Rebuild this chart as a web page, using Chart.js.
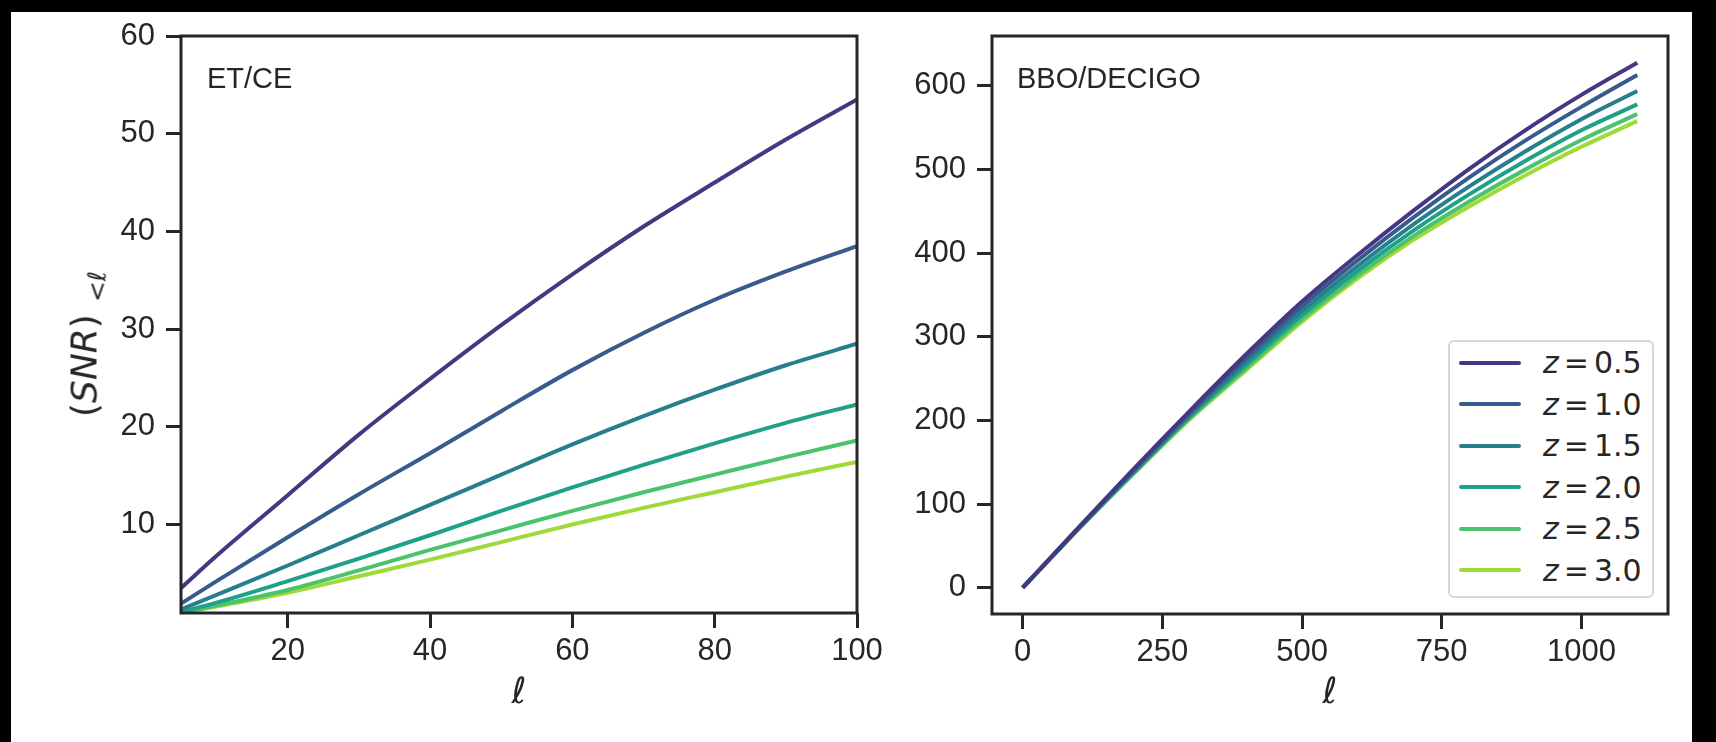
<!DOCTYPE html>
<html>
<head>
<meta charset="utf-8">
<title>SNR vs ell</title>
<script src="https://cdn.jsdelivr.net/npm/chart.js@4.4.1/dist/chart.umd.min.js"></script>
<style>
  body { margin: 0; background: #000; width: 1716px; height: 742px; overflow: hidden; position: relative; }
  #paper { position: absolute; left: 11px; top: 12px; width: 1681px; height: 730px; background: #fff; }
  canvas { position: absolute; top: 0; }
  #etCanvas { left: 0; }
  #bboCanvas { left: 880px; }
  .panel-label { position: absolute; font: 29px "Liberation Sans", Arial, sans-serif; line-height: 1; color: #262626; }
  #ytitle { position: absolute; left: 88px; top: 344px; transform: translate(-50%, -50%) rotate(-90deg);
    font: 36px "DejaVu Sans", sans-serif; line-height: 1; color: #262626; white-space: nowrap; }
  #ytitle sub { font-size: 25px; margin-left: 12px; vertical-align: -9px; }
  #legend { position: absolute; left: 1448px; top: 340px; width: 206px; height: 258px; box-sizing: border-box;
    border: 2px solid #d6d6d6; border-radius: 6px; background: #fff; padding-left: 9px; }
  .leg-row { height: 41.5px; display: flex; align-items: center; }
  .leg-line { width: 62px; height: 4px; border-radius: 2px; margin-right: 22px; }
  .leg-text { font: 30px "DejaVu Sans", sans-serif; color: #262626; white-space: nowrap; }
  .leg-text .eq { margin: 0 5px; }
</style>
</head>
<body>
<div id="paper"></div>
<canvas id="etCanvas" width="900" height="742"></canvas>
<canvas id="bboCanvas" width="836" height="742"></canvas>
<div class="panel-label" style="left:207px; top:64px;">ET/CE</div>
<div class="panel-label" style="left:1017px; top:64px;">BBO/DECIGO</div>
<div id="ytitle">(<i>SNR</i>)<sub>&lt;<i>ℓ</i></sub></div>
<div id="legend"></div>
<script>
// redshift labels + viridis colours
const zLabels = ['0.5', '1.0', '1.5', '2.0', '2.5', '3.0'];
const zColors = ['#453781', '#375b8d', '#277f8e', '#1fa188', '#4bc26c', '#a0da39'];

// left panel: ET/CE
const ellEt = [5, 10, 20, 30, 40, 50, 60, 70, 80, 90, 100];
const etZ05 = [3.5, 6.8, 13.0, 19.2, 24.9, 30.4, 35.6, 40.5, 45.0, 49.4, 53.5];
const etZ10 = [1.9, 4.2, 8.7, 13.1, 17.3, 21.6, 25.8, 29.6, 33.0, 35.9, 38.5];
const etZ15 = [1.3, 2.8, 5.8, 8.9, 12.0, 15.1, 18.2, 21.1, 23.8, 26.3, 28.5];
const etZ20 = [1.05, 2.0, 4.2, 6.5, 8.9, 11.4, 13.8, 16.1, 18.3, 20.4, 22.3];
const etZ25 = [0.95, 1.7, 3.3, 5.3, 7.4, 9.4, 11.4, 13.3, 15.1, 16.9, 18.6];
const etZ30 = [0.95, 1.6, 3.0, 4.7, 6.4, 8.2, 10.0, 11.7, 13.3, 14.9, 16.4];
const etXTicks = [20, 40, 60, 80, 100];
const etYTicks = [10, 20, 30, 40, 50, 60];

// right panel: BBO/DECIGO
const ellBbo = [0, 100, 200, 300, 400, 500, 600, 700, 800, 900, 1000, 1100];
const bboZ05 = [0, 72, 143, 212, 279, 342, 398, 451, 501, 547, 589, 627.5];
const bboZ10 = [0, 71.5, 141.6, 209.7, 274.6, 336.5, 391.6, 443, 490.7, 534.6, 574.7, 612.8];
const bboZ15 = [0, 71, 140.2, 207.3, 270.1, 330.7, 384.8, 434.5, 479.9, 521.6, 559.9, 593.6];
const bboZ20 = [0, 70.6, 138.9, 205.2, 266.1, 325.7, 379, 427.2, 470.4, 510.3, 546.8, 577.7];
const bboZ25 = [0, 70.3, 137.8, 203.3, 262.5, 321.1, 373.6, 420.5, 461.9, 500, 535.1, 566];
const bboZ30 = [0, 70, 137, 202, 260, 318, 370, 416, 456, 493, 527, 557.7];
const bboXTicks = [0, 250, 500, 750, 1000];
const bboYTicks = [0, 100, 200, 300, 400, 500, 600];

const ink = '#262626';
const tickFont = { family: '"Liberation Sans", Arial, sans-serif', size: 31 };

document.addEventListener("DOMContentLoaded", () => {

  // full box around the plot area
  const framePlugin = {
    id: 'frame',
    afterDatasetsDraw: (chart) => {
      const { ctx, chartArea: a } = chart;
      ctx.save();
      ctx.strokeStyle = ink;
      ctx.lineWidth = 3;
      ctx.strokeRect(a.left, a.top, a.right - a.left, a.bottom - a.top);
      ctx.restore();
    }
  };

  const makeSets = (xs, series) => series.map((ys, i) => ({
    label: 'z = ' + zLabels[i],
    data: xs.map((x, j) => ({ x: x, y: ys[j] })),
    borderColor: zColors[i],
    backgroundColor: zColors[i],
    borderWidth: 4,
    pointRadius: 0,
    cubicInterpolationMode: 'monotone',
    fill: false
  }));

  const axisCommon = (tickList, pad) => ({
    type: 'linear',
    grid: { drawOnChartArea: false, drawTicks: true, tickLength: 15, tickWidth: 3, tickColor: ink, color: ink },
    border: { display: false },
    ticks: { color: ink, font: tickFont, padding: pad, callback: (v) => String(v) },
    afterBuildTicks: (s) => { s.ticks = tickList.map(v => ({ value: v })); }
  });

  const renderPanel = (id, xs, series, cfg) => {
    const ctx = document.getElementById(id).getContext('2d');
    const xAxis = axisCommon(cfg.xTicks, 5);
    xAxis.min = cfg.xMin; xAxis.max = cfg.xMax;
    xAxis.title = { display: true, text: 'ℓ', color: ink,
      font: { family: '"DejaVu Sans", sans-serif', size: 36, style: 'italic' }, padding: { top: 0, bottom: 27 } };
    xAxis.afterFit = (s) => { s.height = 742 - cfg.bottom; };
    const yAxis = axisCommon(cfg.yTicks, 11);
    yAxis.min = cfg.yMin; yAxis.max = cfg.yMax;
    yAxis.afterFit = (s) => { s.width = cfg.left; };

    new Chart(ctx, {
      type: 'line',
      data: { datasets: makeSets(xs, series) },
      options: {
        responsive: false,
        animation: false,
        devicePixelRatio: 1,
        layout: { padding: { left: 0, top: cfg.top, right: cfg.right, bottom: 0 } },
        plugins: { legend: { display: false }, tooltip: { enabled: false } },
        scales: { x: xAxis, y: yAxis }
      },
      plugins: [framePlugin]
    });
  };

  renderPanel('etCanvas', ellEt, [etZ05, etZ10, etZ15, etZ20, etZ25, etZ30], {
    xTicks: etXTicks, yTicks: etYTicks, xMin: 5, xMax: 100, yMin: 0.94, yMax: 60,
    left: 181, top: 36, right: 900 - 857, bottom: 613
  });

  renderPanel('bboCanvas', ellBbo, [bboZ05, bboZ10, bboZ15, bboZ20, bboZ25, bboZ30], {
    xTicks: bboXTicks, yTicks: bboYTicks, xMin: -55, xMax: 1155, yMin: -31.4, yMax: 659.4,
    left: 112, top: 36, right: 836 - 788, bottom: 614
  });

  // legend box inside right panel
  const legend = document.getElementById('legend');
  zLabels.forEach((z, i) => {
    const row = document.createElement('div');
    row.className = 'leg-row';
    row.innerHTML = `<span class="leg-line" style="background:${zColors[i]}"></span>` +
      `<span class="leg-text"><i>z</i><span class="eq">=</span>${z}</span>`;
    legend.appendChild(row);
  });
});
</script>
</body>
</html>
